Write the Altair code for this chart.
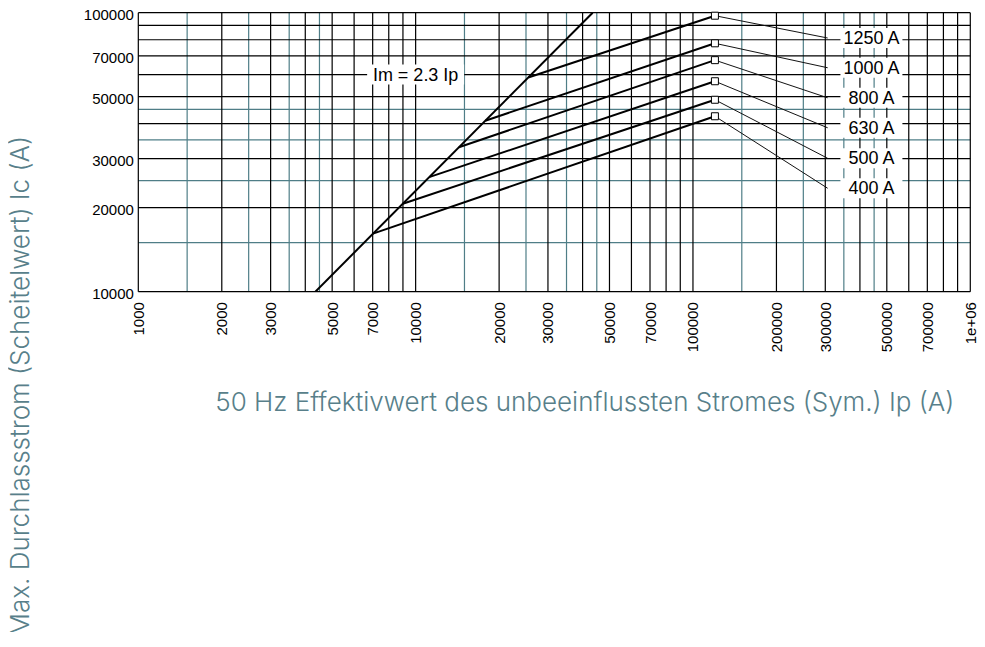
import altair as alt
import pandas as pd

# ---- data ----
x_tick_labels = [1000, 2000, 3000, 5000, 7000, 10000, 20000, 30000, 50000, 70000,
                 100000, 200000, 300000, 500000, 700000, 1000000]
y_tick_labels = [10000, 20000, 30000, 50000, 70000, 100000]

grid_black_mult = [1, 2, 3, 4, 5, 6, 7, 8, 9]
grid_teal_mult = [1.5, 2.5, 3.5, 4.5]
x_decades = [1000, 10000, 100000]
y_decades = [10000]

main_ip = [4350, 43480]
main_ic = [10000, 100000]

fuses = ["400 A", "500 A", "630 A", "800 A", "1000 A", "1250 A"]
knee_ip = [7020, 8990, 11190, 14320, 17830, 25470]
knee_ic = [16150, 20670, 25740, 32940, 41010, 58580]
end_ip = [120000, 120000, 120000, 120000, 120000, 120000]
end_ic = [42540, 48750, 56800, 67600, 77680, 97560]
leader_ip = [306000, 306000, 306000, 306000, 306000, 306000]
label_ip = [440000, 440000, 440000, 440000, 440000, 440000]
label_ic = [23480, 30070, 38680, 49540, 63480, 81150]

im_label = "Im = 2.3 Ip"
im_label_ip = [10000]
im_label_ic = [60000]

x_title = "50 Hz Effektivwert des unbeeinflussten Stromes (Sym.) Ip (A)"
y_title = "Max. Durchlassstrom (Scheitelwert) Ic (A)"

# ---- tables ----
xb = [m * d for d in x_decades for m in grid_black_mult] + [1000000]
xt = [m * d for d in x_decades for m in grid_teal_mult]
yb = [m * d for d in y_decades for m in grid_black_mult] + [100000]
yt = [m * d for d in y_decades for m in grid_teal_mult]

TEAL = "#4f7e87"
TITLE_C = "#587f8a"
TFONT = "Inter"

PAD_L, PAD_T, PAD_R, PAD_B = 130.3, 4.7, 6.7, 340
W, H = 832.0, 279.0

xs = alt.Scale(type="log", domain=[1000, 1000000], nice=False)
ys = alt.Scale(type="log", domain=[10000, 100000], nice=False)

xaxis = alt.Axis(
    values=x_tick_labels,
    labelExpr="datum.value >= 1000000 ? '1e+06' : format(datum.value, 'd')",
    labelAngle=270, labelFont="Liberation Sans", labelFontSize=15, labelColor="black",
    labelPadding=10, labelFlush=False, labelOverlap=False, ticks=False, domain=False, grid=False,
    title=x_title, titleFont=TFONT, titleFontSize=26, titleFontWeight=300, titleColor=TITLE_C,
    titleX=446, titleY=119, titleAlign="center", titleBaseline="alphabetic",
)
yaxis = alt.Axis(
    values=y_tick_labels,
    labelExpr="format(datum.value, 'd')",
    labelFont="Liberation Sans", labelFontSize=15, labelColor="black", labelOffset=1.5,
    labelPadding=5, labelFlush=False, labelOverlap=False, ticks=False, domain=False, grid=False,
    title=y_title, titleFont=TFONT, titleFontSize=26, titleFontWeight=300, titleColor=TITLE_C,
    titleAngle=270, titleX=-110, titleY=373, titleAlign="center", titleBaseline="alphabetic",
)

X = alt.X("x:Q", scale=xs, axis=xaxis)
Y = alt.Y("y:Q", scale=ys, axis=yaxis)

def vrules(vals, color):
    return alt.Chart(pd.DataFrame({"x": vals})).mark_rule(color=color, strokeWidth=1.2).encode(x=X)

def hrules(vals, color):
    return alt.Chart(pd.DataFrame({"y": vals})).mark_rule(color=color, strokeWidth=1.2).encode(y=Y)

main_df = pd.DataFrame({"x": main_ip, "y": main_ic})
main_line = alt.Chart(main_df).mark_line(color="black", strokeWidth=2, clip=True).encode(x=X, y=Y)

fuse_rows = []
for f, kx, ky, ex, ey in zip(fuses, knee_ip, knee_ic, end_ip, end_ic):
    fuse_rows.append({"f": f, "x": kx, "y": ky, "o": 0})
    fuse_rows.append({"f": f, "x": ex, "y": ey, "o": 1})
fuse_df = pd.DataFrame(fuse_rows)
fuse_lines = alt.Chart(fuse_df).mark_line(color="black", strokeWidth=2).encode(
    x=X, y=Y, detail="f:N", order="o:Q")

lead_rows = []
for f, ex, ey, lx, ly in zip(fuses, end_ip, end_ic, leader_ip, label_ic):
    lead_rows.append({"f": f, "x": ex, "y": ey, "o": 0})
    lead_rows.append({"f": f, "x": lx, "y": ly, "o": 1})
lead_df = pd.DataFrame(lead_rows)
leaders = alt.Chart(lead_df).mark_line(color="#111111", strokeWidth=1).encode(
    x=X, y=Y, detail="f:N", order="o:Q")

end_df = pd.DataFrame({"x": end_ip, "y": end_ic})
squares = alt.Chart(end_df).mark_point(
    shape="square", filled=True, fill="white", stroke="black", strokeWidth=1,
    size=49, opacity=1).encode(x=X, y=Y)

lab_df = pd.DataFrame({"x": label_ip, "y": label_ic, "t": fuses})
lab_box = alt.Chart(lab_df).mark_point(
    shape="M-3.1,-1H3.1V1H-3.1Z", filled=True, fill="white", strokeWidth=0,
    size=400, opacity=1).encode(x=X, y=Y)
lab_text = alt.Chart(lab_df).mark_text(
    font="Liberation Sans", fontSize=18, color="black", align="center", baseline="middle", dy=1
).encode(x=X, y=Y, text="t:N")

im_df = pd.DataFrame({"x": im_label_ip, "y": im_label_ic, "t": [im_label]})
im_box = alt.Chart(im_df).mark_point(
    shape="M-4.85,-1H4.85V1H-4.85Z", filled=True, fill="white", strokeWidth=0,
    size=400, opacity=1).encode(x=X, y=Y)
im_text = alt.Chart(im_df).mark_text(
    font="Liberation Sans", fontSize=18, color="black", align="center", baseline="middle", dy=1
).encode(x=X, y=Y, text="t:N")

chart = alt.layer(
    vrules(xt, TEAL), hrules(yt, TEAL),
    vrules(xb, "black"), hrules(yb, "black"),
    main_line, fuse_lines, leaders, squares,
    lab_box, lab_text, im_box, im_text,
).properties(
    width=W, height=H,
    autosize=alt.AutoSizeParams(type="none"),
    padding={"left": PAD_L, "top": PAD_T, "right": PAD_R, "bottom": PAD_B},
).configure_view(stroke=None)

chart.save("out.html", embed_options={"renderer": "svg", "actions": False})
